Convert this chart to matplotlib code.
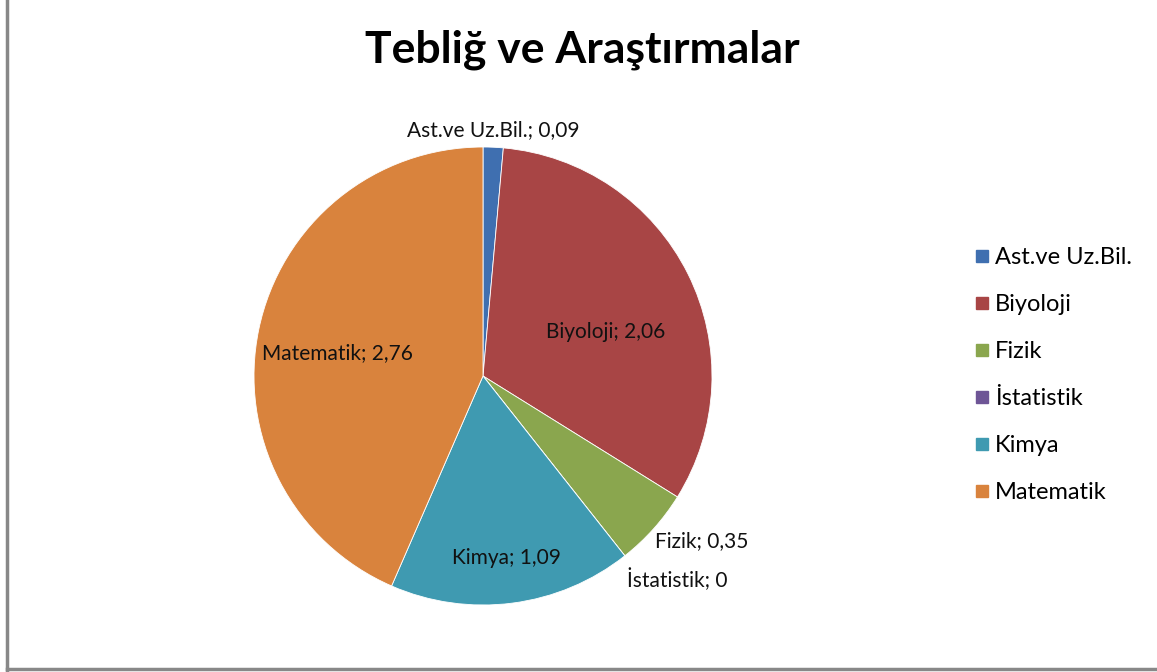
import numpy as np
import matplotlib
matplotlib.use("Agg")
import matplotlib.pyplot as plt
from matplotlib.lines import Line2D

# chart data
categories = ["Ast.ve Uz.Bil.", "Biyoloji", "Fizik", "İstatistik", "Kimya", "Matematik"]
values = [0.09, 2.06, 0.35, 0.0, 1.09, 2.76]
colors = ["#3F6FB0", "#A84545", "#8AA64E", "#6E5596", "#3F9AB1", "#D9833D"]
title = "Tebliğ ve Araştırmalar"

# label placement (radius as fraction of pie radius, angle nudge, alignment)
label_dist = [1.03, 0.57, 1.04, 1.05, 0.80, 0.645]
label_turn = [0, -7, -2, -1.5, 0, 3]
label_ha = ["center", "center", "left", "left", "center", "center"]
label_va = ["bottom", "center", "center", "top", "center", "center"]

plt.rcParams["font.family"] = ["Lato", "DejaVu Sans"]

W, H = 1157, 672
fig = plt.figure(figsize=(W / 100, H / 100), dpi=100)
fig.patch.set_facecolor("white")

# pie axes: centre (483, 376) px, radius 229 px
cx, cy, r = 483, 376, 229
ax = fig.add_axes([(cx - r) / W, (H - cy - r) / H, 2 * r / W, 2 * r / H])
wedges, _ = ax.pie(values, colors=colors, startangle=90, counterclock=False,
                   radius=1, wedgeprops=dict(edgecolor="white", linewidth=0.6))
ax.set_xlim(-1, 1)
ax.set_ylim(-1, 1)
ax.set_aspect("equal")
ax.axis("off")

for w, cat, val, d, turn, ha, va in zip(wedges, categories, values, label_dist,
                                         label_turn, label_ha, label_va):
    mid = np.deg2rad((w.theta1 + w.theta2) / 2 + turn)
    txt = f"{cat}; " + f"{val:g}".replace(".", ",")
    ax.text(d * np.cos(mid), d * np.sin(mid), txt, ha=ha, va=va,
            fontsize=15, color="#111111", clip_on=False)

fig.text(582 / W, 1 - 50 / H, title, ha="center", va="center",
         fontsize=32, fontweight="bold", color="black")

handles = [Line2D([0], [0], marker="s", linestyle="none", markersize=8.5,
                  markerfacecolor=c, markeredgecolor=c) for c in colors]
fig.legend(handles, categories, loc="upper left", bbox_to_anchor=(962 / W, 1 - 238 / H),
           frameon=False, fontsize=17, labelspacing=1.1, handletextpad=0.1,
           handlelength=0.9, borderaxespad=0)

# outer chart border (left and bottom visible)
fig.add_artist(Line2D([7 / W, 7 / W], [0, 1], color="#888888", lw=2.5,
                      transform=fig.transFigure))
fig.add_artist(Line2D([7 / W, 1], [1 - 669 / H, 1 - 669 / H], color="#888888", lw=2.5,
                      transform=fig.transFigure))

fig.savefig("out.png", dpi=100, facecolor="white")
